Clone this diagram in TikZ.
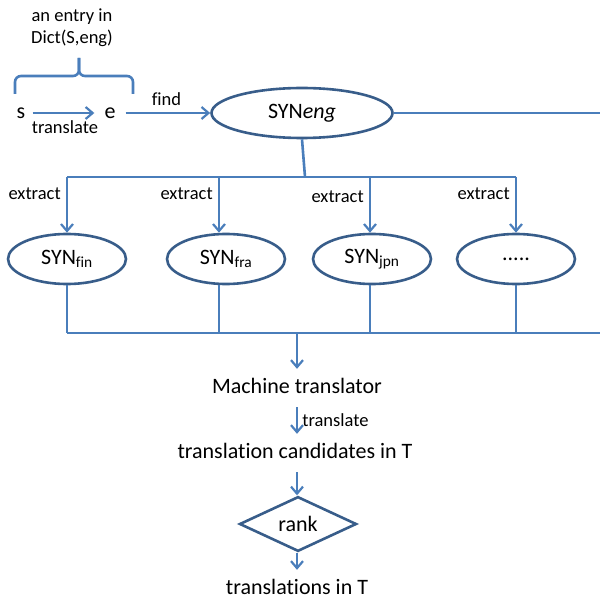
\documentclass[tikz,border=0pt]{standalone}
\usepackage{fontspec}
\setmainfont{Carlito}[Ligatures=NoCommon]
\usetikzlibrary{arrows.meta,shapes.geometric}
\definecolor{lineblue}{HTML}{4A7EBB}
\definecolor{shapeblue}{HTML}{385D8A}
\tikzset{
  conn/.style={draw=lineblue, line width=2.6pt},
  arr/.style={conn, -{Straight Barb[length=7pt,width=12pt,line width=2.2pt]}},
  bigtxt/.style={font=\fontsize{22}{25}\selectfont, inner sep=0pt},
  smalltxt/.style={font=\fontsize{18.5}{22}\selectfont, inner sep=0pt},
  flowtxt/.style={bigtxt, text height=15pt, text depth=5pt, inner ysep=9pt},
  bigell/.style={ellipse, draw=shapeblue, line width=2.6pt, inner sep=0pt,
    minimum width=181pt, minimum height=50pt, font=\fontsize{22}{25}\selectfont},
  smallell/.style={ellipse, draw=shapeblue, line width=2.6pt, inner sep=0pt,
    minimum width=118pt, minimum height=50pt, font=\fontsize{22}{25}\selectfont},
  rankbox/.style={diamond, draw=shapeblue, line width=2.6pt, inner sep=0pt,
    minimum width=117pt, minimum height=52pt, font=\fontsize{22}{25}\selectfont},
}
\begin{document}
\begin{tikzpicture}[x=1pt,y=-1pt]
\useasboundingbox (0,0) rectangle (600,599);
% top left entry
\node[smalltxt, align=center] (entry) at (72,28) {an entry in\\Dict(S,eng)};
\coordinate (brL) at (15,94);
\coordinate (brLc) at (15,76);
\coordinate (brM) at (79,76);
\coordinate (brT) at (79,58);
\coordinate (brRc) at (133,76);
\coordinate (brR) at (133,94);
\draw[conn, rounded corners=6pt] (brL) -- (brLc) -- (brM) -- (brT);
\draw[conn, rounded corners=6pt] (brR) -- (brRc) -- (brM) -- (brT);
\node[bigtxt, inner xsep=7pt] (s) at (21,113) {s};
\node[bigtxt, inner xsep=7pt] (e) at (110,113) {e};
\draw[arr, shorten >=3pt] (s) -- (e) node[midway, below=6pt, smalltxt] (tl1) {translate};
% SYNeng
\node[bigell] (eng) at (302,113) {SYN\textit{eng}};
\draw[arr, shorten <=3pt] (e) -- (eng) node[midway, above=6pt, smalltxt] (find) {find};
\coordinate (rtop) at (600,113);
\draw[conn] (eng.east) -- (rtop);
% top bus
\coordinate (bt) at (305,177);
\coordinate (b1) at (67,177);
\coordinate (b2) at (219,177);
\coordinate (b3) at (370,177);
\coordinate (b4) at (516,177);
\draw[conn] (eng.south) -- (bt);
\draw[conn] (b1) -- (b4);
% lower ellipses
\node[smallell] (fin) at (67,259) {SYN\textsubscript{fin}};
\node[smallell] (fra) at (226,259) {SYN\textsubscript{fra}};
\node[smallell] (jpn) at (372,259) {SYN\textsubscript{jpn}};
\node[smallell] (more) at (516,259) {.....};
\draw[arr] (b1) -- (b1 |- fin.north) node[pos=0.3, left=5pt, smalltxt] (x1) {extract};
\draw[arr] (b2) -- (b2 |- fra.north) node[pos=0.3, left=5pt, smalltxt] (x2) {extract};
\draw[arr] (b3) -- (b3 |- jpn.north) node[pos=0.35, left=5pt, smalltxt] (x3) {extract};
\draw[arr] (b4) -- (b4 |- more.north) node[pos=0.3, left=5pt, smalltxt] (x4) {extract};
% bottom bus
\coordinate (c1) at (67,333);
\coordinate (c2) at (219,333);
\coordinate (c3) at (370,333);
\coordinate (c4) at (516,333);
\coordinate (cr) at (600,333);
\coordinate (cm) at (297,333);
\draw[conn] (fin.south) -- (c1);
\draw[conn] (c2 |- fra.south) -- (c2);
\draw[conn] (c3 |- jpn.south) -- (c3);
\draw[conn] (more.south) -- (c4);
\draw[conn] (c1) -- (cr);
% flow
\node[flowtxt] (mt) at (297,388) {Machine translator};
\node[flowtxt] (cand) at (295,453) {translation candidates in T};
\node[rankbox] (rank) at (298,524) {rank};
\node[flowtxt] (out) at (297,589) {translations in T};
\draw[arr] (cm) -- (cm |- mt.north);
\draw[arr] (mt.south -| cm) -- (cm |- cand.north) node[midway, right=4pt, smalltxt] (tl2) {translate};
\draw[arr] (cand.south -| cm) -- (cm |- rank.north);
\draw[arr] (rank.south -| cm) -- (cm |- out.north);
\end{tikzpicture}
\end{document}
